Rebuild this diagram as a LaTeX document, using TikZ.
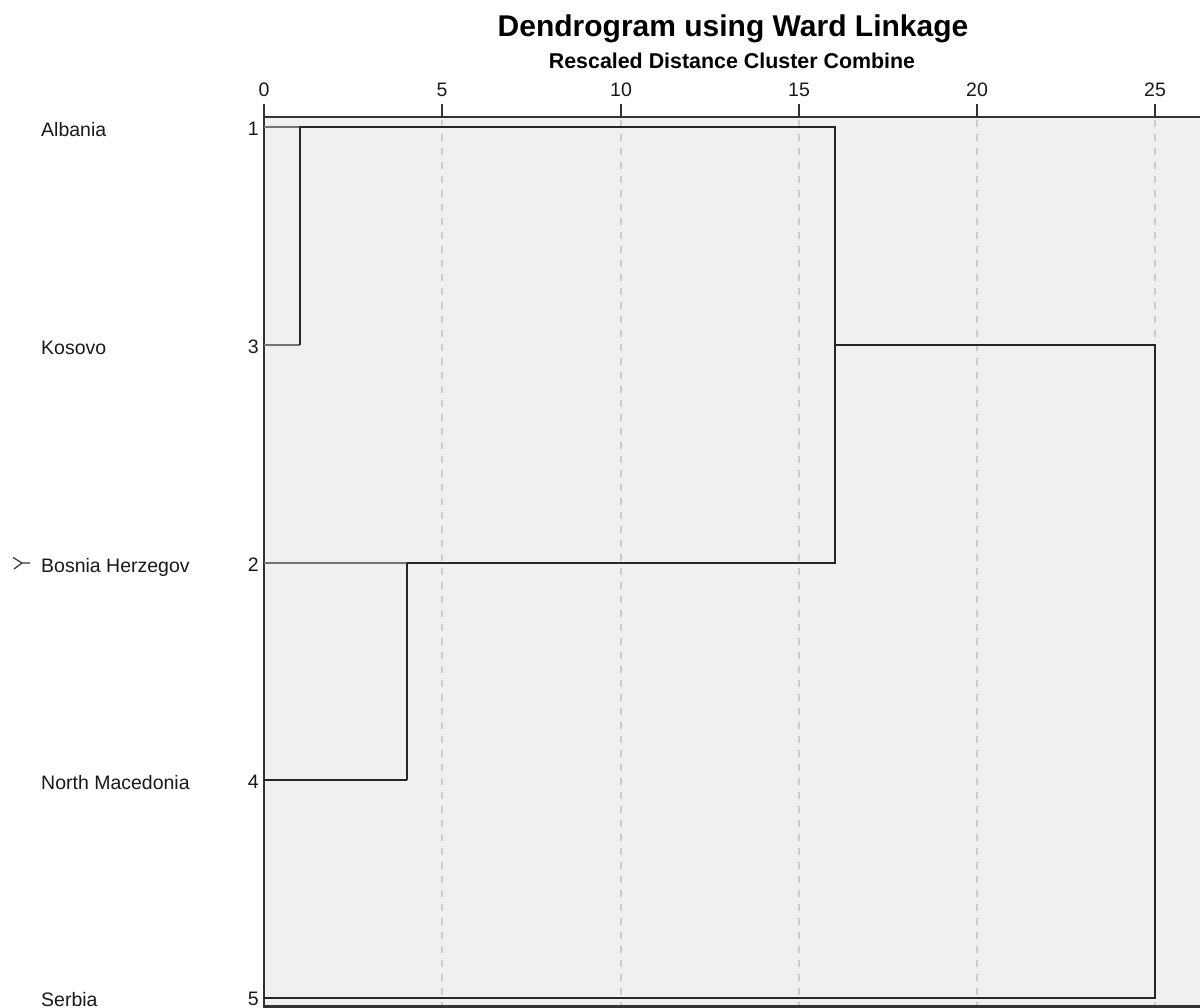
\documentclass[tikz,border=0pt]{standalone}
\usepackage{fontspec}
\setmainfont{Liberation Sans}
\begin{document}
\begin{tikzpicture}[x=1pt,y=-1pt,
  lbl/.style={font=\fontsize{19.5}{20}\selectfont, text=black!90, inner sep=0pt},
  dline/.style={draw=black!85, line width=2.5pt},
  sline/.style={draw=black!55, line width=2.5pt},
  gridl/.style={draw=black!20, line width=1.3pt, dash pattern=on 7pt off 7pt},
  axl/.style={draw=black!80, line width=2.3pt}]
\definecolor{plotbg}{HTML}{F0F0F0}
\useasboundingbox (0,0) rectangle (1200,1008);
\fill[white] (0,0) rectangle (1200,1008);
% plot area
\fill[plotbg] (264,118) rectangle (1200,1006);
% grid
\foreach \x in {442,621,799,977,1155} \draw[gridl] (\x,120) -- (\x,1006);
% axis
\draw[axl] (264,104) -- (264,1008);
\draw[axl] (264,117) -- (1200,117);
\draw[axl] (264,1006.5) -- (1200,1006.5);
\foreach \x/\t in {264/0,442/5,621/10,799/15,977/20,1155/25} {
  \draw[axl] (\x,104) -- (\x,117);
  \node[lbl, anchor=base] (tk\t) at (\x,97) {\t};
}
% titles
\node[font=\fontsize{30}{31}\selectfont\bfseries, anchor=base, inner sep=0pt] (title) at (733,37) {Dendrogram using Ward Linkage};
\node[font=\fontsize{21.4}{22}\selectfont\bfseries, anchor=base, inner sep=0pt] (subtitle) at (732,69) {Rescaled Distance Cluster Combine};
% leaf labels
\node[lbl, anchor=base west] (nAL) at (41,136.5) {Albania};
\node[lbl, anchor=base west] (nKO) at (41,354.5) {Kosovo};
\node[lbl, anchor=base west] (nBH) at (41,572.5) {Bosnia Herzegov};
\node[lbl, anchor=base west] (nNM) at (41,789.5) {North Macedonia};
\node[lbl, anchor=base west] (nSE) at (41,1006) {Serbia};
\node[lbl, anchor=base east] (k1) at (259,135.5) {1};
\node[lbl, anchor=base east] (k3) at (259,353.5) {3};
\node[lbl, anchor=base east] (k2) at (259,571.5) {2};
\node[lbl, anchor=base east] (k4) at (259,788.5) {4};
\node[lbl, anchor=base east] (k5) at (259,1005.5) {5};
% marker
\coordinate (mk) at (22,563);
\draw[black!80, line width=1.2pt] (13,557.5) -- (mk) -- (14,569) (mk) -- (30,563);
% leaf points
\coordinate (l1) at (264,127);
\coordinate (l3) at (264,345);
\coordinate (l2) at (264,563);
\coordinate (l4) at (264,780);
\coordinate (l5) at (264,998);
% merge points
\coordinate (a1) at (300,127);
\coordinate (a3) at (300,345);
\coordinate (b2) at (407,563);
\coordinate (b4) at (407,780);
\coordinate (c1) at (835,127);
\coordinate (c2) at (835,563);
\coordinate (cm) at (835,345);
\coordinate (d1) at (1155,345);
\coordinate (d5) at (1155,998);
% leaf stubs
\draw[sline] (l1) -- (a1);
\draw[sline] (l3) -- (a3);
\draw[sline] (l2) -- (b2);
\draw[dline] (l4) -- (b4);
% clusters
\draw[dline] (a3) -- (a1) -- (c1) -- (c2) -- (b2);
\draw[dline] (b2) -- (b4);
\draw[dline] (cm) -- (d1) -- (d5) -- (l5);
\end{tikzpicture}
\end{document}
